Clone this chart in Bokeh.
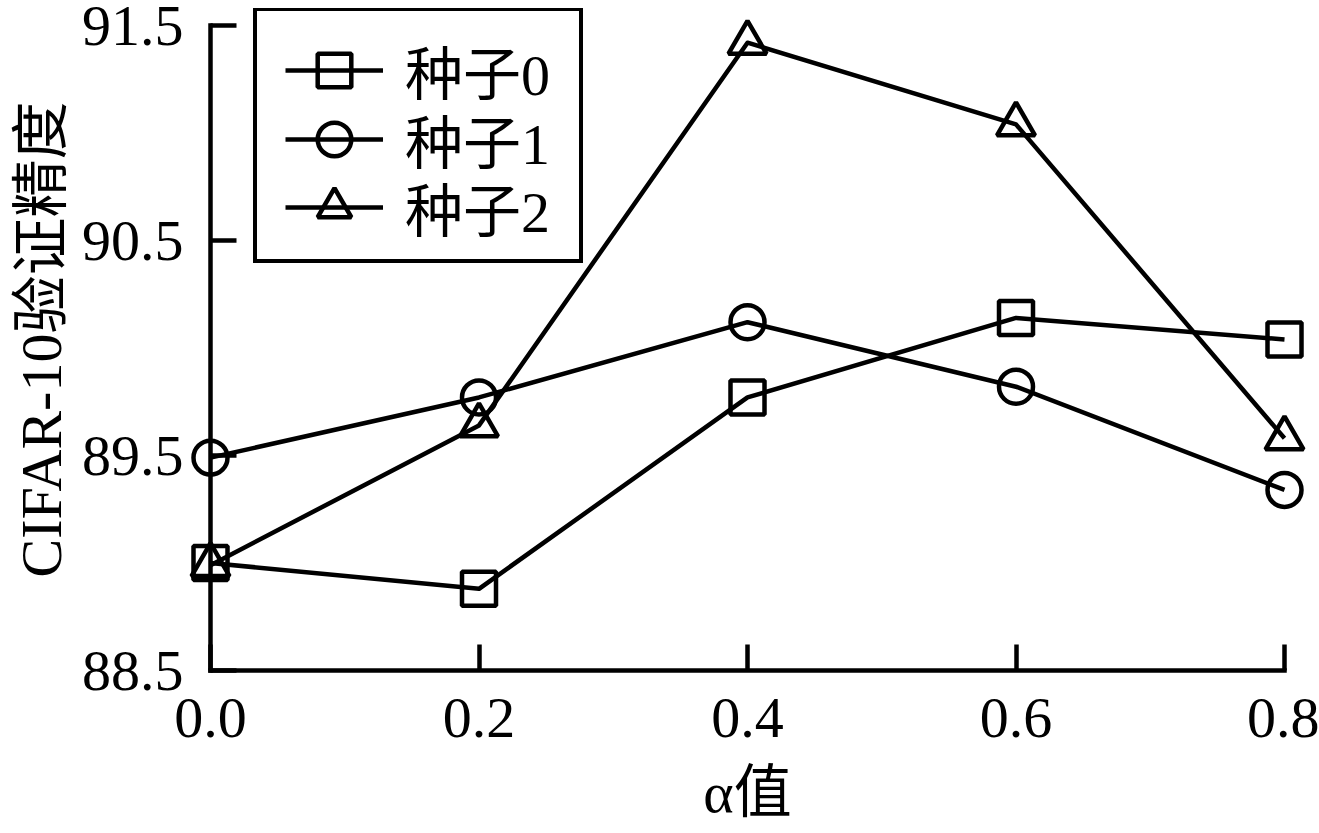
from bokeh.plotting import figure
from bokeh.models import (Range1d, FixedTicker, PrintfTickFormatter, Legend, LegendItem)
from bokeh.embed import file_html
from bokeh.resources import INLINE

# ---- data ----
alpha = [0.0, 0.2, 0.4, 0.6, 0.8]
seed0 = [89.00, 88.88, 89.77, 90.14, 90.04]
seed1 = [89.49, 89.77, 90.12, 89.82, 89.34]
seed2 = [88.99, 89.64, 91.42, 91.04, 89.58]
series_names = ["种子0", "种子1", "种子2"]
markers = ["square", "circle", "triangle"]
marker_sizes = [34, 34, 38]
x_ticks = [0.0, 0.2, 0.4, 0.6, 0.8]
y_ticks = [88.5, 89.5, 90.5, 91.5]
x_label = "α值"
y_label = "CIFAR-10验证精度"

FONT = "Liberation Serif, Noto Sans CJK SC"
FS = "58px"

# frame runs a little above 91.5 so that the legend box is not clipped
Y_TOP = 88.5 + 662 / 215.0

p = figure(width=1319, height=833, output_backend="svg", toolbar_location=None,
           x_range=Range1d(0.0, 0.8), y_range=Range1d(88.5, Y_TOP),
           min_border_left=210, min_border_right=35, min_border_top=8, min_border_bottom=163)
p.outline_line_color = None
p.xgrid.visible = False
p.ygrid.visible = False
p.background_fill_color = "white"
p.border_fill_color = "white"

items = []
for name, ys, mk, ms in zip(series_names, [seed0, seed1, seed2], markers, marker_sizes):
    r_line = p.line(alpha, ys, line_color="black", line_width=4.5, line_join="round", level="overlay")
    r_pts = p.scatter(alpha, ys, marker=mk, size=ms, fill_color=None, line_color="black",
                      line_width=4.5, level="overlay")
    items.append(LegendItem(label=name, renderers=[r_line, r_pts]))

for ax in (p.xaxis[0], p.yaxis[0]):
    ax.axis_line_width = 4.5
    ax.axis_line_color = "black"
    ax.axis_line_cap = "square"
    ax.major_tick_in = 26
    ax.major_tick_out = 0
    ax.major_tick_line_width = 4.5
    ax.major_tick_line_color = "black"
    ax.minor_tick_in = 0
    ax.minor_tick_out = 0
    ax.major_label_text_font = FONT
    ax.major_label_text_font_size = FS
    ax.major_label_text_color = "black"
    ax.axis_label_text_font = FONT
    ax.axis_label_text_font_size = FS
    ax.axis_label_text_font_style = "normal"
    ax.axis_label_text_color = "black"
    ax.formatter = PrintfTickFormatter(format="%.1f")

p.xaxis[0].ticker = FixedTicker(ticks=x_ticks)
p.yaxis[0].ticker = FixedTicker(ticks=y_ticks)
p.xaxis[0].bounds = (x_ticks[0], x_ticks[-1])
p.yaxis[0].bounds = (y_ticks[0], y_ticks[-1])
p.xaxis[0].major_label_standoff = 28
p.yaxis[0].major_label_standoff = 27
p.xaxis[0].axis_label_standoff = 20
p.yaxis[0].axis_label_standoff = 5
p.xaxis[0].axis_label = x_label
p.yaxis[0].axis_label = y_label

# legend frame (a blank legend box carrying the border)
frame_dummy = p.line(x=[], y=[], line_alpha=0)
box = Legend(items=[LegendItem(label=" ", renderers=[frame_dummy])],
             location=(43, 407), margin=0, padding=0, spacing=0,
             glyph_width=300, glyph_height=248, label_standoff=0, label_width=22,
             label_text_font=FONT, label_text_font_size=FS,
             border_line_color="black", border_line_width=4.5, border_line_alpha=1.0,
             background_fill_color="white", background_fill_alpha=1.0)
p.add_layout(box)

# one legend row per series, stacked at the reference's row pitch
row_y = [558, 489, 421]
for it, yy in zip(items, row_y):
    lg = Legend(items=[it], location=(75, yy), margin=0, padding=0, spacing=0,
                glyph_width=98, glyph_height=84, label_height=68, label_standoff=22,
                label_text_font=FONT, label_text_font_size=FS, label_text_color="black",
                border_line_color=None, background_fill_alpha=0.0)
    p.add_layout(lg)

open("out.html", "w").write(file_html(p, INLINE))
